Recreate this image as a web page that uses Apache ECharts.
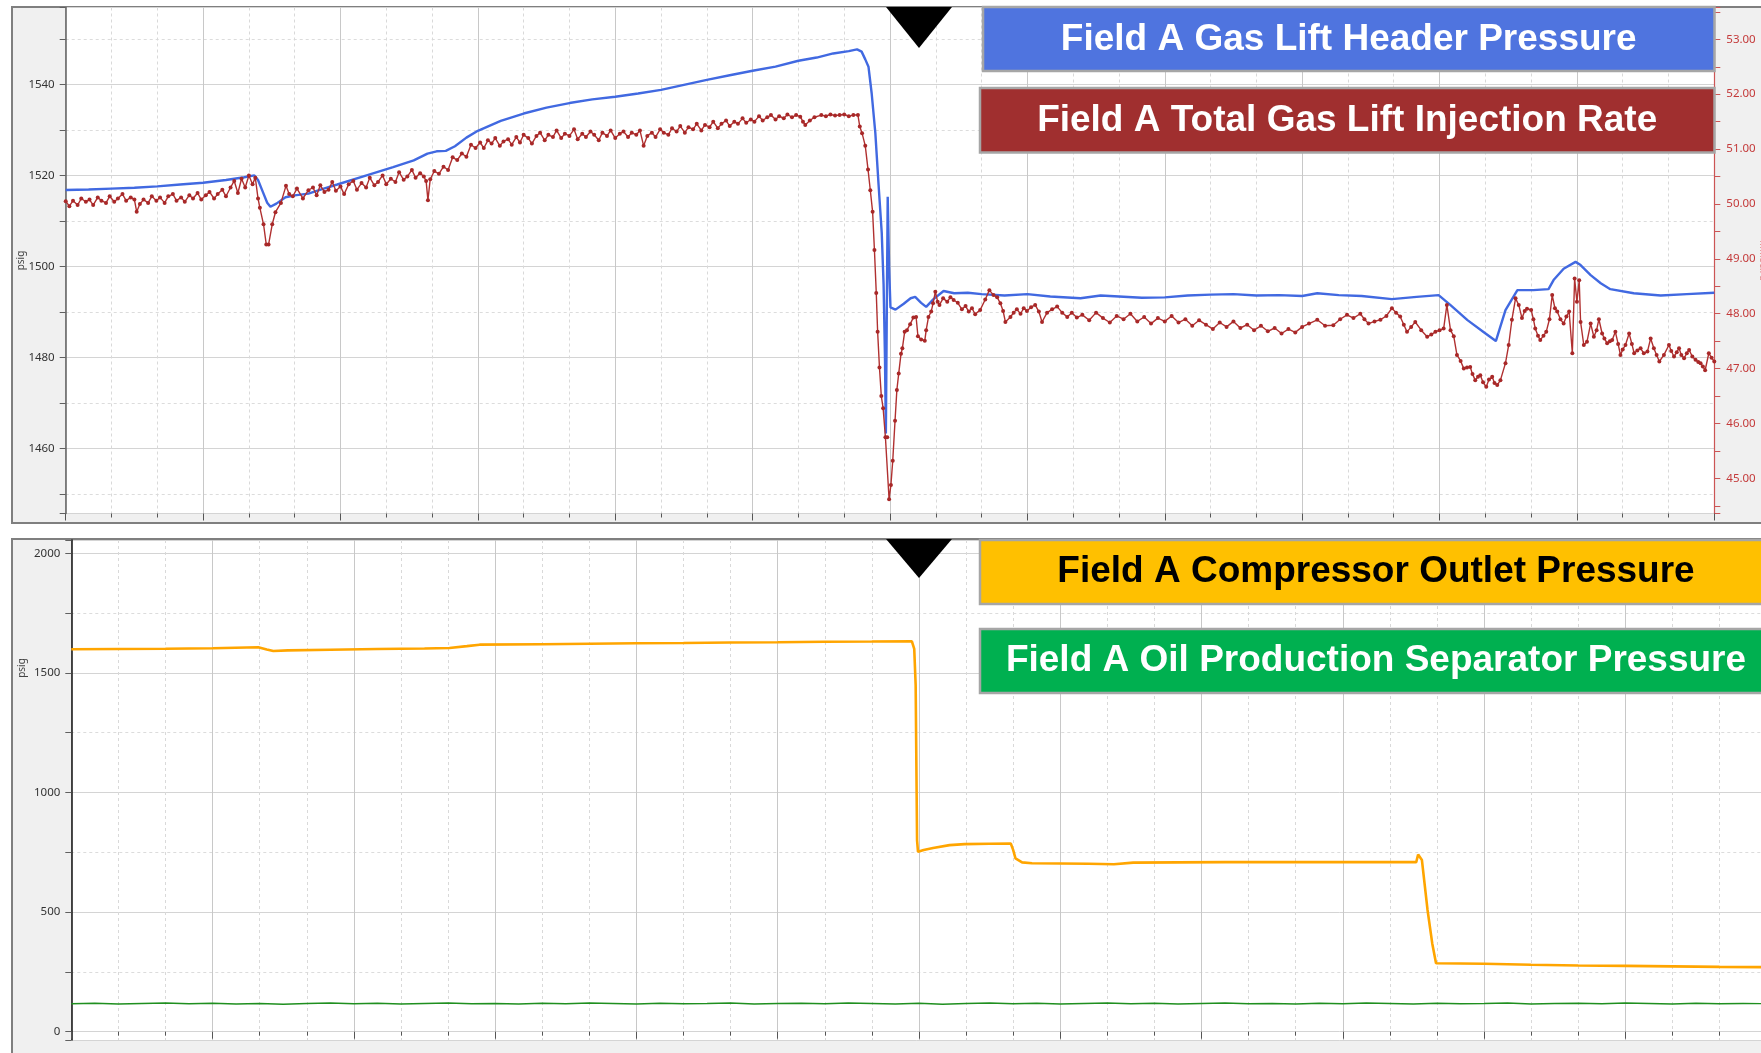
<!DOCTYPE html>
<html><head><meta charset="utf-8">
<script src="https://cdn.jsdelivr.net/npm/echarts@6/dist/echarts.min.js"></script>
<style>html,body{margin:0;padding:0;background:#fff;overflow:hidden}#c{width:1761px;height:1053px}</style>
</head><body><div id="c"></div><script>
// ---------- names ----------
const seriesNames = ['Field A Gas Lift Header Pressure','Field A Total Gas Lift Injection Rate','Field A Compressor Outlet Pressure','Field A Oil Production Separator Pressure'];
// ---------- tick labels ----------
const topLeftTicks = [1460,1480,1500,1520,1540];
const topRightTicks = [45,46,47,48,49,50,51,52,53];
const bottomTicks = [0,500,1000,1500,2000];
// ---------- data: [time unit, value] ----------
const headerPressure = [[0,1516.8],[0.5,1516.9],[1,1517.1],[1.5,1517.3],[2,1517.6],[2.5,1518.0],[3,1518.4],[3.5,1519.0],[3.9,1519.6],[4.12,1520],[4.2,1519],[4.3,1516.5],[4.4,1514],[4.47,1513.1],[4.6,1513.8],[4.8,1515.2],[5.0,1515.6],[5.3,1516],[5.6,1517],[5.93,1518],[6.5,1519.8],[7.15,1521.8],[7.6,1523.3],[7.9,1524.8],[8.1,1525.3],[8.3,1525.4],[8.5,1526.4],[8.75,1528.3],[9.0,1529.8],[9.5,1532],[10,1533.6],[10.5,1534.9],[11,1535.9],[11.5,1536.7],[12,1537.3],[12.5,1538],[13,1538.8],[13.5,1539.9],[14,1541],[14.5,1542],[15,1543],[15.5,1543.9],[16,1545.2],[16.4,1545.9],[16.76,1546.8],[17.1,1547.3],[17.28,1547.7],[17.38,1547.2],[17.46,1545.5],[17.53,1543.9],[17.6,1538],[17.68,1529.3],[17.75,1518],[17.82,1507.3],[17.86,1496],[17.89,1480],[17.91,1463.3],[17.93,1490],[17.95,1515.3],[17.98,1500],[18.01,1491],[18.12,1490.5],[18.3,1491.8],[18.45,1493],[18.55,1493.3],[18.68,1492],[18.79,1491.1],[18.95,1492.8],[19.17,1494.6],[19.4,1494.1],[19.7,1494.2],[20,1493.9],[20.5,1493.6],[21,1493.9],[21.5,1493.4],[22.16,1493],[22.6,1493.6],[23,1493.4],[23.5,1493.1],[24,1493.2],[24.5,1493.6],[25,1493.8],[25.5,1493.9],[26,1493.6],[26.5,1493.7],[27,1493.5],[27.33,1494.1],[27.8,1493.7],[28.3,1493.5],[28.96,1492.8],[29.5,1493.3],[29.98,1493.7],[30.24,1491.5],[30.61,1488.2],[30.96,1485.6],[31.23,1483.6],[31.44,1490.4],[31.7,1494.8],[32.05,1494.8],[32.38,1495],[32.49,1497],[32.71,1499.5],[32.97,1501],[33.08,1500.3],[33.3,1498.1],[33.52,1496.3],[33.73,1495],[34.24,1494.1],[34.83,1493.6],[35.4,1493.9],[36,1494.2]];
const injectionRate = [[0,50.05],[0.08,49.96],[0.16,50.06],[0.26,49.98],[0.34,50.1],[0.44,50.04],[0.52,50.08],[0.6,49.98],[0.7,50.12],[0.78,50.06],[0.88,50.02],[0.96,50.14],[1.06,50.04],[1.14,50.1],[1.24,50.18],[1.32,50.06],[1.42,50.12],[1.5,50.08],[1.55,49.86],[1.62,50.0],[1.7,50.08],[1.8,50.02],[1.88,50.14],[1.98,50.06],[2.06,50.12],[2.16,50.02],[2.24,50.14],[2.34,50.18],[2.42,50.06],[2.52,50.12],[2.6,50.04],[2.7,50.16],[2.78,50.1],[2.88,50.2],[2.96,50.08],[3.06,50.16],[3.14,50.22],[3.24,50.1],[3.32,50.18],[3.42,50.26],[3.5,50.14],[3.6,50.3],[3.68,50.42],[3.76,50.2],[3.84,50.46],[3.92,50.3],[4.0,50.52],[4.08,50.36],[4.14,50.48],[4.2,50.1],[4.24,49.93],[4.32,49.63],[4.38,49.26],[4.43,49.26],[4.51,49.63],[4.58,49.85],[4.7,50.02],[4.81,50.33],[4.88,50.18],[4.96,50.14],[5.05,50.28],[5.18,50.1],[5.3,50.25],[5.4,50.3],[5.48,50.16],[5.56,50.34],[5.65,50.22],[5.74,50.26],[5.82,50.4],[5.9,50.24],[6.0,50.32],[6.08,50.18],[6.18,50.36],[6.28,50.42],[6.36,50.26],[6.46,50.38],[6.56,50.3],[6.64,50.48],[6.74,50.34],[6.82,50.4],[6.92,50.52],[7.0,50.36],[7.1,50.46],[7.2,50.4],[7.28,50.58],[7.38,50.44],[7.46,50.5],[7.56,50.62],[7.64,50.48],[7.74,50.56],[7.82,50.5],[7.87,50.42],[7.91,50.07],[7.96,50.45],[8.05,50.6],[8.15,50.55],[8.25,50.68],[8.35,50.62],[8.45,50.85],[8.55,50.8],[8.65,50.92],[8.75,50.86],[8.85,51.08],[8.95,51.02],[9.05,51.12],[9.13,51.02],[9.22,51.16],[9.3,51.1],[9.38,51.2],[9.48,51.06],[9.56,51.14],[9.66,51.18],[9.74,51.08],[9.84,51.22],[9.92,51.12],[10.0,51.26],[10.1,51.2],[10.18,51.1],[10.28,51.24],[10.36,51.3],[10.46,51.16],[10.54,51.26],[10.64,51.22],[10.72,51.34],[10.82,51.2],[10.9,51.28],[11.0,51.24],[11.1,51.36],[11.18,51.18],[11.28,51.28],[11.36,51.22],[11.46,51.32],[11.54,51.26],[11.64,51.16],[11.72,51.3],[11.82,51.24],[11.9,51.34],[12.0,51.2],[12.1,51.28],[12.18,51.32],[12.28,51.22],[12.36,51.3],[12.46,51.26],[12.54,51.34],[12.62,51.06],[12.7,51.24],[12.8,51.3],[12.88,51.22],[12.98,51.36],[13.06,51.3],[13.16,51.26],[13.24,51.38],[13.34,51.32],[13.42,51.42],[13.52,51.3],[13.6,51.4],[13.7,51.36],[13.78,51.46],[13.88,51.34],[13.96,51.44],[14.06,51.4],[14.14,51.5],[14.24,51.38],[14.32,51.46],[14.42,51.52],[14.5,51.42],[14.6,51.5],[14.68,51.46],[14.78,51.56],[14.86,51.48],[14.96,51.54],[15.04,51.5],[15.14,51.6],[15.22,51.52],[15.32,51.58],[15.4,51.62],[15.5,51.54],[15.58,51.6],[15.68,51.56],[15.76,51.63],[15.86,51.58],[15.95,51.62],[16.04,51.59],[16.1,51.5],[16.15,51.44],[16.25,51.52],[16.35,51.58],[16.5,51.62],[16.6,51.6],[16.7,51.63],[16.8,51.61],[16.9,51.62],[17.0,51.63],[17.1,51.6],[17.2,51.62],[17.3,51.62],[17.34,51.41],[17.39,51.29],[17.46,51.06],[17.52,50.63],[17.57,50.25],[17.62,49.86],[17.66,49.16],[17.7,48.38],[17.73,47.67],[17.77,47.02],[17.81,46.5],[17.85,46.28],[17.9,45.75],[17.94,45.75],[17.98,44.62],[18.02,44.88],[18.06,45.32],[18.11,46.05],[18.15,46.61],[18.19,46.91],[18.24,47.27],[18.27,47.37],[18.32,47.67],[18.37,47.7],[18.44,47.81],[18.51,47.93],[18.57,47.94],[18.61,47.59],[18.68,47.53],[18.76,47.51],[18.79,47.7],[18.84,47.94],[18.9,48.04],[18.94,48.19],[18.99,48.4],[19.04,48.22],[19.08,48.16],[19.16,48.28],[19.25,48.22],[19.32,48.3],[19.39,48.25],[19.48,48.2],[19.57,48.08],[19.65,48.14],[19.72,48.04],[19.79,48.1],[19.86,47.99],[19.97,48.07],[20.08,48.26],[20.17,48.43],[20.26,48.34],[20.34,48.3],[20.41,48.19],[20.47,48.05],[20.52,47.85],[20.63,47.94],[20.7,48.02],[20.77,48.08],[20.85,48.0],[20.92,48.1],[20.99,48.05],[21.08,48.12],[21.17,48.16],[21.25,48.04],[21.32,47.85],[21.43,48.02],[21.54,48.08],[21.65,48.13],[21.76,48.02],[21.87,47.94],[21.97,48.02],[22.08,47.93],[22.2,47.98],[22.35,47.88],[22.5,48.02],[22.65,47.92],[22.8,47.84],[22.95,47.96],[23.1,47.9],[23.25,48.0],[23.4,47.86],[23.55,47.94],[23.7,47.82],[23.85,47.92],[24.0,47.86],[24.15,47.96],[24.3,47.84],[24.45,47.9],[24.6,47.78],[24.75,47.88],[24.9,47.8],[25.05,47.72],[25.2,47.84],[25.35,47.76],[25.5,47.86],[25.65,47.74],[25.8,47.8],[25.95,47.7],[26.1,47.78],[26.25,47.68],[26.4,47.74],[26.55,47.64],[26.7,47.72],[26.85,47.66],[27.0,47.76],[27.15,47.82],[27.33,47.89],[27.5,47.78],[27.68,47.79],[27.83,47.9],[27.98,47.98],[28.12,47.92],[28.27,48.0],[28.36,47.9],[28.45,47.82],[28.58,47.86],[28.71,47.89],[28.84,47.96],[28.96,48.1],[29.05,48.02],[29.14,47.95],[29.22,47.8],[29.29,47.67],[29.38,47.76],[29.47,47.85],[29.6,47.7],[29.73,47.58],[29.82,47.62],[29.91,47.67],[30.0,47.7],[30.09,47.73],[30.16,48.16],[30.24,47.7],[30.31,47.59],[30.38,47.25],[30.46,47.14],[30.53,47.0],[30.6,47.02],[30.67,47.03],[30.72,46.9],[30.78,46.79],[30.84,46.85],[30.89,46.88],[30.95,46.75],[31.02,46.67],[31.08,46.8],[31.15,46.85],[31.2,46.74],[31.26,46.7],[31.33,46.79],[31.44,47.1],[31.51,47.43],[31.58,47.89],[31.66,48.28],[31.73,48.16],[31.8,47.92],[31.86,48.05],[31.91,48.09],[32.0,48.07],[32.05,47.9],[32.09,47.73],[32.15,47.6],[32.2,47.52],[32.27,47.6],[32.33,47.67],[32.4,47.9],[32.46,48.34],[32.52,48.1],[32.57,48.04],[32.64,47.9],[32.71,47.82],[32.77,47.95],[32.83,48.04],[32.9,47.28],[32.95,48.64],[33.0,48.22],[33.05,48.61],[33.08,47.85],[33.15,47.43],[33.22,47.49],[33.3,47.82],[33.37,47.58],[33.43,47.7],[33.48,47.9],[33.55,47.64],[33.6,47.55],[33.66,47.46],[33.72,47.5],[33.77,47.52],[33.84,47.67],[33.9,47.45],[33.95,47.25],[34.0,47.35],[34.06,47.43],[34.14,47.64],[34.2,47.45],[34.25,47.28],[34.32,47.33],[34.39,47.37],[34.46,47.28],[34.54,47.31],[34.61,47.55],[34.68,47.37],[34.74,47.25],[34.8,47.13],[34.9,47.25],[35.01,47.43],[35.06,47.32],[35.12,47.22],[35.18,47.3],[35.23,47.37],[35.28,47.25],[35.34,47.19],[35.4,47.28],[35.45,47.34],[35.52,47.22],[35.59,47.16],[35.65,47.12],[35.7,47.1],[35.75,47.04],[35.8,46.97],[35.88,47.28],[35.94,47.2],[36.0,47.13]];
const compressorOutlet = [[0,1599],[1,1600],[2,1601],[3,1603],[3.97,1607],[4.15,1598],[4.29,1591.6],[4.6,1594],[5.5,1597],[6.5,1600],[7.5,1602],[8.03,1604],[8.4,1612],[8.67,1618],[10,1620],[11,1622],[12,1624],[13,1625],[14,1627],[15,1628],[16,1630],[17,1631],[17.85,1632],[17.9,1600],[17.93,1450],[17.96,800],[17.98,752],[18.1,760],[18.3,768],[18.65,780],[18.97,784],[19.5,786],[19.95,787],[20.0,760],[20.05,725],[20.19,708],[20.4,704],[21,703],[21.6,702],[22.14,700],[22.55,707],[23.5,708],[24.5,709],[25.5,709],[26.5,709],[27.5,709],[28.56,709],[28.6,741],[28.64,735],[28.68,718],[28.8,509],[28.9,369],[28.98,286],[30,284],[31,280],[32,277],[33,275],[34,273],[35,271],[36,270]];
const separatorPressure = [[0,117],[0.5,119],[1,116],[1.5,118],[2,120],[2.5,117],[3,119],[3.5,116],[4,118],[4.5,115],[5,118],[5.5,120],[6,117],[6.5,119],[7,116],[7.5,118],[8,120],[8.5,117],[9,118],[9.5,116],[10,119],[10.5,117],[11,120],[11.5,118],[12,116],[12.5,119],[13,117],[13.5,118],[14,120],[14.5,116],[15,118],[15.5,119],[16,117],[16.5,120],[17,118],[17.5,116],[18,119],[18.5,115],[19,118],[19.5,120],[20,117],[20.5,119],[21,116],[21.5,118],[22,120],[22.5,117],[23,119],[23.5,116],[24,118],[24.5,120],[25,117],[25.5,118],[26,116],[26.5,119],[27,117],[27.5,120],[28,118],[28.5,116],[29,119],[29.5,117],[30,118],[30.5,120],[31,116],[31.5,118],[32,119],[32.5,117],[33,120],[33.5,118],[34,116],[34.5,119],[35,117],[35.5,118],[36,117]];

const labelFont = '"Noto Sans", "DejaVu Sans", sans-serif';
const boxFont = '"Liberation Sans", Arial, sans-serif';
const step = a => a[1] - a[0];

const chart = echarts.init(document.getElementById('c'), null, {renderer:'canvas'});

function xAxisCfg(grid){
  return {
    type:'value', gridIndex:grid, min:0, max:36, interval:3,
    axisLine:{show:false},
    axisLabel:{show:false},
    axisTick:{show:true, length:7, lineStyle:{color:'#555'}},
    minorTick:{show:true, splitNumber:3, length:4, lineStyle:{color:'#555'}},
    splitLine:{show:true, lineStyle:{color:'#c8c8c8', width:1}},
    minorSplitLine:{show:true, lineStyle:{color:'#d9d9d9', type:[3,3], width:1}}
  };
}

const option = {
  animation:false,
  backgroundColor:'#ffffff',
  grid:[
    {left:65.7, top:7.5, right:46.7, bottom:1053-513.5, show:true, backgroundColor:'#ffffff', borderWidth:0, containLabel:false, outerBoundsMode:'none'},
    {left:71.3, top:540, right:-5.6, bottom:13, show:true, backgroundColor:'#ffffff', borderWidth:0, containLabel:false, outerBoundsMode:'none'}
  ],
  xAxis:[xAxisCfg(0), xAxisCfg(1)],
  yAxis:[
    { type:'value', gridIndex:0, position:'left', min:1445.7, max:1556.9,
      minInterval:step(topLeftTicks), maxInterval:step(topLeftTicks),
      name:'psig', nameLocation:'middle', nameGap:40, nameRotate:90, nameMoveOverlap:false,
      nameTextStyle:{color:'#444', fontSize:10, fontFamily:labelFont},
      axisLine:{show:true, lineStyle:{color:'#606060', width:1.5}},
      axisTick:{show:true, length:6, lineStyle:{color:'#606060'}},
      minorTick:{show:true, splitNumber:2, length:6, lineStyle:{color:'#606060'}},
      axisLabel:{color:'#333', fontSize:11.5, fontFamily:labelFont, margin:11, showMinLabel:false, showMaxLabel:false, formatter:v => String(v)},
      splitLine:{show:true, lineStyle:{color:'#d4d4d4'}},
      minorSplitLine:{show:true, lineStyle:{color:'#dcdcdc', type:[3,3]}}
    },
    { type:'value', gridIndex:0, position:'right', min:44.36, max:53.58,
      minInterval:step(topRightTicks), maxInterval:step(topRightTicks),
      name:'MMscf/d', nameLocation:'middle', nameGap:44, nameRotate:-90, nameMoveOverlap:false,
      nameTextStyle:{color:'#e08a8a', fontSize:10, fontFamily:labelFont},
      axisLine:{show:true, lineStyle:{color:'#cc5555', width:1.2}},
      axisTick:{show:true, length:6, lineStyle:{color:'#cc5555'}},
      minorTick:{show:true, splitNumber:2, length:6, lineStyle:{color:'#cc5555'}},
      axisLabel:{color:'#c43a3a', fontSize:11.5, fontFamily:labelFont, margin:12, showMinLabel:false, showMaxLabel:false,
        formatter:v => v.toFixed(2)},
      splitLine:{show:false}, minorSplitLine:{show:false}
    },
    { type:'value', gridIndex:1, position:'left', min:-34.7, max:2055.6,
      minInterval:step(bottomTicks), maxInterval:step(bottomTicks),
      axisLine:{show:true, lineStyle:{color:'#111', width:1.5}},
      axisTick:{show:true, length:6, lineStyle:{color:'#606060'}},
      minorTick:{show:true, splitNumber:2, length:6, lineStyle:{color:'#606060'}},
      axisLabel:{color:'#333', fontSize:11.5, fontFamily:labelFont, margin:11, showMinLabel:false, showMaxLabel:false, formatter:v => String(v)},
      splitLine:{show:true, lineStyle:{color:'#d4d4d4'}},
      minorSplitLine:{show:true, lineStyle:{color:'#dcdcdc', type:[3,3]}}
    }
  ],
  series:[
    { name:seriesNames[0], type:'line', xAxisIndex:0, yAxisIndex:0, data:headerPressure,
      showSymbol:false, lineStyle:{color:'#4169e1', width:2.4}, z:3 },
    { name:seriesNames[1], type:'line', xAxisIndex:0, yAxisIndex:1, data:injectionRate,
      showSymbol:true, showAllSymbol:true, symbol:'circle', symbolSize:4,
      itemStyle:{color:'#a82828'}, lineStyle:{color:'#b03030', width:1.4}, z:4 },
    { name:seriesNames[2], type:'line', xAxisIndex:1, yAxisIndex:2, data:compressorOutlet,
      showSymbol:false, lineStyle:{color:'#ffa500', width:2.6}, z:3 },
    { name:seriesNames[3], type:'line', xAxisIndex:1, yAxisIndex:2, data:separatorPressure,
      showSymbol:false, lineStyle:{color:'#1f8f1f', width:1.4}, z:3 }
  ],
  graphic:[
    {type:'rect', z:-10, shape:{x:12, y:7, width:1800, height:516}, style:{fill:'#f0f0f0', stroke:'#7f7f7f', lineWidth:2}},
    {type:'rect', z:-10, shape:{x:12, y:539, width:1800, height:600}, style:{fill:'#f0f0f0', stroke:'#7f7f7f', lineWidth:2}},
    {type:'text', z:10, x:22, y:668, rotation:Math.PI/2, style:{text:'psig', fill:'#444', fontSize:10, fontFamily:labelFont, align:'center', verticalAlign:'middle'}},
    {type:'polygon', z:50, shape:{points:[[886,7],[952,7],[919,48]]}, style:{fill:'#000'}},
    {type:'polygon', z:50, shape:{points:[[886,539],[952,539],[919,578]]}, style:{fill:'#000'}},
    {type:'rect', z:60, shape:{x:983, y:7, width:731.5, height:64}, style:{fill:'#4f74df', stroke:'#a6a6a6', lineWidth:2.5}},
    {type:'text', z:61, x:1348.7, y:39.5, style:{text:seriesNames[0], fill:'#fff', fontSize:37, fontWeight:'bold', fontFamily:boxFont, align:'center', verticalAlign:'middle'}},
    {type:'rect', z:60, shape:{x:980, y:88, width:734.5, height:64.5}, style:{fill:'#a02f2f', stroke:'#a6a6a6', lineWidth:2.5}},
    {type:'text', z:61, x:1347.2, y:120.5, style:{text:seriesNames[1], fill:'#fff', fontSize:37, fontWeight:'bold', fontFamily:boxFont, align:'center', verticalAlign:'middle'}},
    {type:'rect', z:60, shape:{x:980, y:540, width:792, height:64}, style:{fill:'#ffc000', stroke:'#a6a6a6', lineWidth:2.5}},
    {type:'text', z:61, x:1376, y:572, style:{text:seriesNames[2], fill:'#000', fontSize:37, fontWeight:'bold', fontFamily:boxFont, align:'center', verticalAlign:'middle'}},
    {type:'rect', z:60, shape:{x:980, y:629, width:792, height:64}, style:{fill:'#00b050', stroke:'#a6a6a6', lineWidth:2.5}},
    {type:'text', z:61, x:1376, y:661, style:{text:seriesNames[3], fill:'#fff', fontSize:37, fontWeight:'bold', fontFamily:boxFont, align:'center', verticalAlign:'middle'}}
  ]
};
chart.setOption(option);
</script></body></html>
